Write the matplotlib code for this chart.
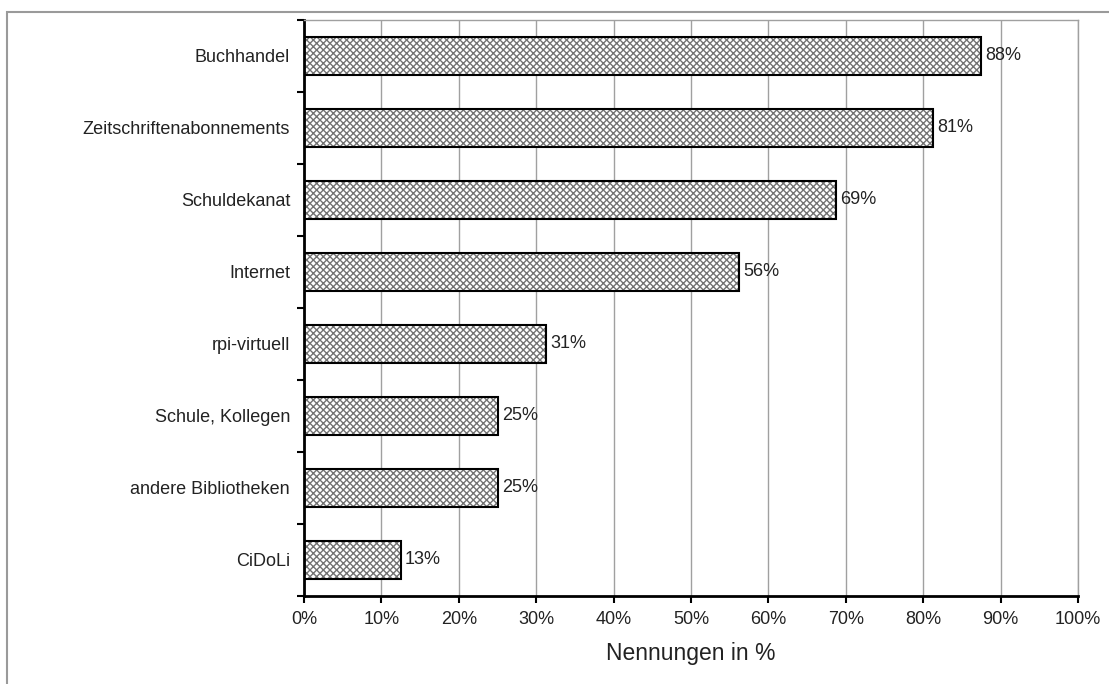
import matplotlib
matplotlib.use("Agg")
import matplotlib.pyplot as plt
from matplotlib.patches import Rectangle
from matplotlib.ticker import FixedLocator, FuncFormatter

categories = ["Buchhandel", "Zeitschriftenabonnements", "Schuldekanat", "Internet",
              "rpi-virtuell", "Schule, Kollegen", "andere Bibliotheken", "CiDoLi"]
values = [87.5, 81.25, 68.75, 56.25, 31.25, 25.0, 25.0, 12.5]
xticks = [0, 10, 20, 30, 40, 50, 60, 70, 80, 90, 100]
xlabel = "Nennungen in %"

plt.rcParams['font.family'] = ['Liberation Sans', 'DejaVu Sans']
plt.rcParams['hatch.linewidth'] = 1.0

fig = plt.figure(figsize=(11.09, 6.84), dpi=100)
ax = fig.add_axes([304/1109, 1-596/684, (1078-304)/1109, (596-20)/684])

# outer frame
fig.patches.append(Rectangle((7/1109, -0.05), 1.2, 1-12/684+0.05, transform=fig.transFigure,
                             fill=False, edgecolor='#9a9a9a', linewidth=1.5, zorder=0))

y = list(range(len(categories)))
ax.barh(y, values, height=0.52, color='white', edgecolor='#737373', hatch='xxxxx',
        linewidth=0, zorder=2)
bars = ax.barh(y, values, height=0.52, fill=False, edgecolor='black', linewidth=1.5, zorder=3)
ax.bar_label(bars, labels=[f"{int(v + 0.5)}%" for v in values], padding=3,
             fontsize=13, color='#222222')

ax.set_xlim(0, 100)
ax.set_ylim(len(categories) - 0.5, -0.5)
ax.set_xticks(xticks)
ax.xaxis.set_major_formatter(FuncFormatter(lambda v, p: f"{int(v)}%"))
ax.set_yticks(y)
ax.set_yticklabels(categories)
ax.yaxis.set_minor_locator(FixedLocator([i - 0.5 for i in range(len(categories) + 1)]))
ax.tick_params(axis='y', which='major', length=0, pad=10, labelsize=13, labelcolor='#222222')
ax.tick_params(axis='y', which='minor', length=5, width=1.5, direction='out')
ax.tick_params(axis='x', which='major', length=5, width=1.5, direction='out', pad=6,
               labelsize=13, labelcolor='#222222')

ax.grid(axis='x', color='#a0a0a0', linewidth=1.0, zorder=0)
ax.set_axisbelow(True)
for s in ['left', 'bottom']:
    ax.spines[s].set_linewidth(2)
    ax.spines[s].set_color('black')
for s in ['top', 'right']:
    ax.spines[s].set_linewidth(1.0)
    ax.spines[s].set_color('#a0a0a0')

ax.set_xlabel(xlabel, fontsize=16.5, color='#222222', labelpad=10)

fig.savefig("out.png", dpi=100)
